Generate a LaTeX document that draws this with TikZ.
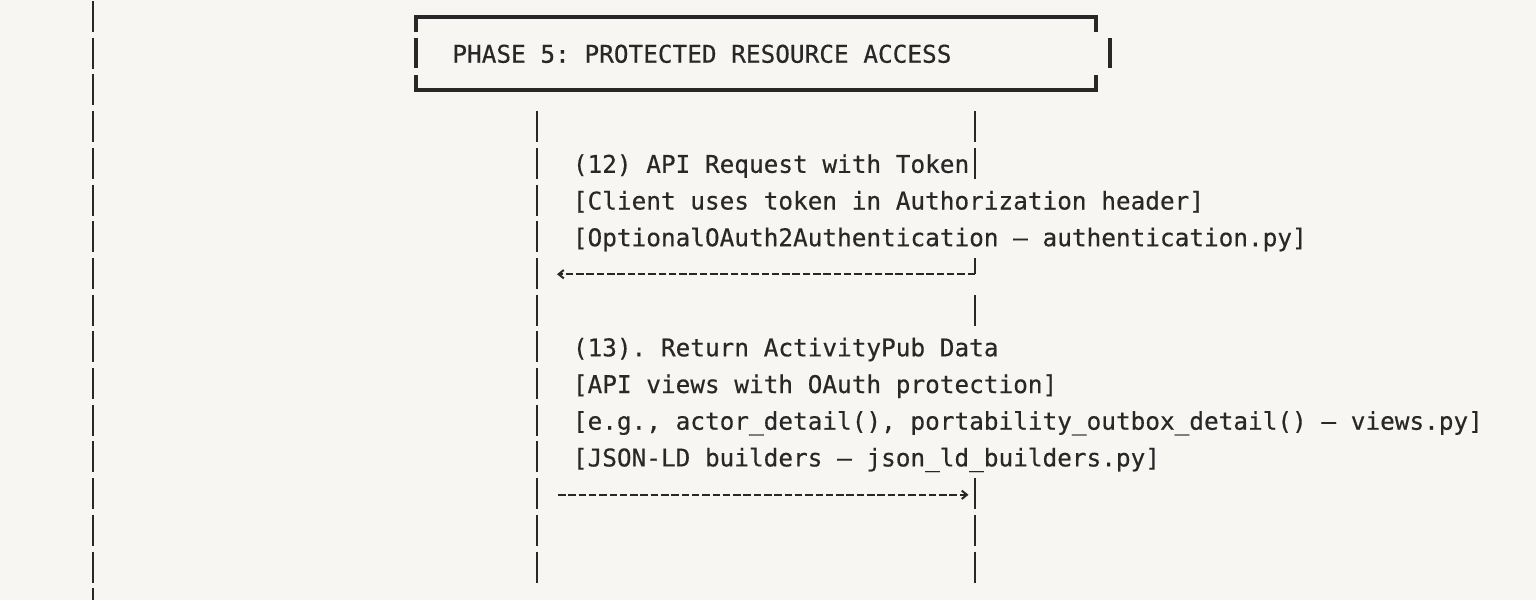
\documentclass[tikz,border=0pt]{standalone}
\usepackage{fontspec}
\setmonofont[FakeBold=0.4]{DejaVu Sans Mono}
\usetikzlibrary{arrows.meta}
\definecolor{bg}{HTML}{F7F6F2}
\definecolor{ink}{HTML}{282828}
\begin{document}
\begin{tikzpicture}[x=0.5pt,y=-0.5pt,
  txt/.style={anchor=base west, inner sep=0pt, text=ink, font=\ttfamily\fontsize{12.19}{14}\selectfont},
  pipe/.style={draw=ink, line width=1.1pt, dash pattern=on 15.5pt off 2.85pt},
  solidpipe/.style={draw=ink, line width=1.1pt},
  heavy/.style={draw=ink, line width=2pt},
  msg/.style={draw=ink, line width=1.1pt, dash pattern=on 3.75pt off 1.4pt},
  tip/.style={-{Straight Barb[length=2.6pt,width=4.2pt,line width=1pt]}}
]
\fill[bg] (0,0) rectangle (1536,600);
\useasboundingbox (0,0) rectangle (1536,600);

% lifelines
\coordinate (L0) at (93,1);
\coordinate (L1) at (93,600);
\draw[pipe] (L0) -- (L1);
\coordinate (M0) at (537,111.1);
\coordinate (M1) at (537,582.5);
\draw[pipe] (M0) -- (M1);
\coordinate (RA0) at (975,111.1);
\coordinate (RA1) at (975,178.5);
\draw[pipe] (RA0) -- (RA1);
\coordinate (RB0) at (975,294.8);
\coordinate (RB1) at (975,325.8);
\draw[pipe] (RB0) -- (RB1);
\coordinate (RC0) at (975,478.1);
\coordinate (RC1) at (975,582.5);
\draw[pipe] (RC0) -- (RC1);

% phase header box
\coordinate (HTL) at (416,17);
\coordinate (HTR) at (1096,17);
\coordinate (HBL) at (416,90);
\coordinate (HBR) at (1096,90);
\draw[heavy] (416,32) -- (HTL) -- (HTR) -- (1096,32);
\draw[heavy] (416,75) -- (HBL) -- (HBR) -- (1096,75);
\draw[heavy] (416,38) -- (416,68);
\draw[heavy] (1110,38) -- (1110,68);
\node[txt] (phase) at (452,62.7) {PHASE 5: PROTECTED RESOURCE ACCESS};

% message 12
\node[txt] (m12a) at (572.5,172.8) {(12) API Request with Token};
\node[txt] (m12b) at (572.5,209.5) {[Client uses token in Authorization header]};
\node[txt] (m12c) at (572.5,246.2) {[OptionalOAuth2Authentication – authentication.py]};
\coordinate (C7top) at (975,258);
\coordinate (C7) at (975,274.2);
\coordinate (A7) at (557,274.2);
\draw[solidpipe] (C7top) -- (C7);
\draw[msg,tip] (C7) -- (A7);

% message 13
\node[txt] (m13a) at (572.5,356.3) {(13). Return ActivityPub Data};
\node[txt] (m13b) at (572.5,393.0) {[API views with OAuth protection]};
\node[txt] (m13c) at (572.5,429.7) {[e.g., actor\_detail(), portability\_outbox\_detail() – views.py]};
\node[txt] (m13d) at (572.5,466.4) {[JSON-LD builders – json\_ld\_builders.py]};
\coordinate (S13) at (558,494.8);
\coordinate (E13) at (968.5,494.8);
\draw[msg,tip] (S13) -- (E13);
\end{tikzpicture}
\end{document}
